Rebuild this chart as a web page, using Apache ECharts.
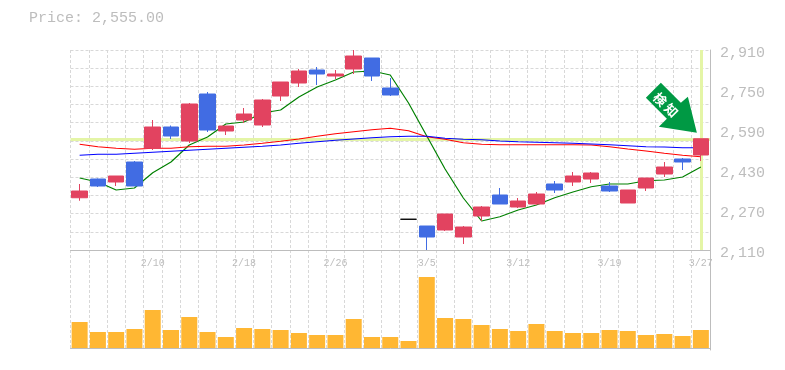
<!DOCTYPE html>
<html><head><meta charset="utf-8">
<style>html,body{margin:0;padding:0;background:#fff}#c{width:785px;height:370px}</style>
<script src="https://cdn.jsdelivr.net/npm/echarts@6/dist/echarts.min.js"></script>
</head><body><div id="c"></div>
<script>
const dates=['2/4','2/5','2/6','2/7','2/10','2/12','2/13','2/14','2/17','2/18','2/19','2/20','2/21','2/25','2/26','2/27','2/28','3/3','3/4','3/5','3/6','3/7','3/10','3/11','3/12','3/13','3/14','3/17','3/18','3/19','3/21','3/24','3/25','3/26','3/27'];
const opens=[2319,2394,2382,2462,2517,2602,2546,2734,2586,2630,2610,2726,2778,2830,2806,2834,2878,2758,2233,2206,2190,2162,2246,2330,2282,2294,2374,2382,2394,2366,2298,2358,2414,2474,2490];
const closes=[2346,2366,2406,2366,2602,2566,2694,2590,2606,2654,2710,2782,2826,2814,2814,2886,2806,2730,2233,2162,2254,2202,2282,2294,2306,2334,2350,2406,2418,2346,2350,2398,2442,2462,2555];
const lows=[2307,2362,2366,2366,2510,2554,2538,2582,2570,2618,2602,2706,2762,2770,2794,2814,2786,2726,2233,2110,2186,2134,2226,2294,2278,2290,2338,2366,2378,2342,2298,2346,2402,2430,2466];
const highs=[2374,2396,2406,2466,2630,2608,2698,2742,2606,2678,2714,2782,2834,2842,2830,2910,2878,2798,2233,2206,2254,2206,2286,2358,2318,2342,2386,2422,2422,2382,2350,2398,2462,2478,2555];
const maShort=[2398,2382,2350,2358,2419,2462,2530,2562,2614,2622,2658,2670,2722,2762,2790,2822,2826,2810,2698,2566,2434,2318,2226,2243,2270,2290,2319,2342,2363,2374,2374,2387,2390,2402,2442];
const maMid=[2533,2523,2517,2513,2517,2517,2523,2525,2525,2530,2537,2545,2554,2565,2575,2583,2591,2597,2587,2563,2553,2539,2533,2531,2531,2531,2531,2531,2530,2523,2514,2506,2497,2489,2483];
const maLong=[2489,2493,2493,2497,2501,2505,2509,2513,2517,2521,2525,2530,2537,2543,2549,2554,2559,2563,2565,2565,2557,2553,2551,2546,2543,2541,2539,2537,2534,2531,2527,2523,2522,2519,2519];
const volumes=[26,16,16,19,38,18,31,16,11,20,19,18,15,13,13,29,11,11,7,71,30,29,23,19,17,24,17,15,15,18,17,13,14,12,18];
const lastPrice=2555;
const lastDate='3/27';
const priceTitle='Price: 2,555.00';
const arrowText='検\u2009知';

const FONT='"Liberation Mono", monospace';
const GRIDC='#d8d8d8', AXC='#bdbdbd', TXT='#bdbdbd';
const split={show:true,interval:0,lineStyle:{color:GRIDC,type:[3,2],width:1}};
const candleData=dates.map((d,i)=>{
  const v=[opens[i],closes[i],lows[i],highs[i]];
  if(opens[i]===closes[i]) return {value:v,itemStyle:{color:'#000',borderColor:'#000',borderWidth:1}};
  return v;
});
const lineSeries=(name,data,color)=>({name,type:'line',data,xAxisIndex:0,yAxisIndex:0,z:2,showSymbol:false,symbol:'none',smooth:false,silent:true,lineStyle:{color,width:1.2}});
const chart=echarts.init(document.getElementById('c'),null,{renderer:'canvas'});
chart.setOption({
  animation:false,
  backgroundColor:'#fff',
  title:{text:priceTitle,left:24,top:6,textStyle:{fontFamily:FONT,fontSize:15,fontWeight:'normal',color:TXT}},
  grid:[
    {left:70.5,width:639.5,top:50,height:200},
    {left:70.5,width:639.5,top:250,height:100}
  ],
  xAxis:[
    {type:'category',gridIndex:0,data:dates,boundaryGap:true,axisLine:{show:true,lineStyle:{color:AXC,width:1}},axisTick:{show:false},splitLine:split,
     axisLabel:{show:true,color:TXT,fontFamily:FONT,fontSize:10,margin:8,interval:(i)=>i%5===4,hideOverlap:false}},
    {type:'category',gridIndex:1,data:dates,boundaryGap:true,axisLine:{show:true,lineStyle:{color:AXC,width:1}},axisTick:{show:false},axisLabel:{show:false},splitLine:split}
  ],
  yAxis:[
    {type:'value',gridIndex:0,min:2110,max:2910,interval:160,position:'right',scale:true,
     axisLine:{show:true,lineStyle:{color:AXC,width:1}},axisTick:{show:false},splitLine:{show:false},
     axisLabel:{show:true,color:TXT,fontFamily:FONT,fontSize:15,margin:10,verticalAlign:'top',lineHeight:7,
       showMinLabel:true,showMaxLabel:true,
       formatter:v=>v.toLocaleString('en-US')}},
    {type:'value',gridIndex:0,min:0,max:11,interval:1,position:'left',
     axisLine:{show:false},axisTick:{show:false},axisLabel:{show:false},
     splitLine:{show:true,lineStyle:{color:GRIDC,type:[3,2],width:1}}},
    {type:'value',gridIndex:1,min:-2,max:98,position:'right',
     axisLine:{show:true,lineStyle:{color:AXC,width:1}},axisTick:{show:false},axisLabel:{show:false},splitLine:{show:false}}
  ],
  series:[
    {name:'cross',type:'line',data:[],xAxisIndex:0,yAxisIndex:0,z:1,symbol:'none',silent:true,
     markLine:{silent:true,symbol:'none',z:1,animation:false,label:{show:false},
       lineStyle:{color:'#e4f5a6',width:3,type:'solid'},
       data:[{yAxis:lastPrice},{xAxis:lastDate}]}},
    lineSeries('short',maShort,'#008000'),
    lineSeries('mid',maMid,'#ff0000'),
    lineSeries('long',maLong,'#0000ff'),
    {name:'price',type:'candlestick',data:candleData,xAxisIndex:0,yAxisIndex:0,z:3,barWidth:16,silent:true,
     itemStyle:{color:'#e24360',color0:'#416ce3',borderColor:'#e24360',borderColor0:'#416ce3',borderWidth:1},
     markPoint:{silent:true,z:5,animation:false,
       data:[{coord:[lastDate,lastPrice],
         symbol:'path://M660 83L680 103L687 97L696 133L658 127L666 119L645 98Z',
         symbolSize:[51,50],symbolKeepAspect:false,symbolOffset:[-29.5,-31],
         itemStyle:{color:'#009944'},
         label:{show:true,position:'inside',formatter:arrowText,rotate:-45,color:'#fff',fontSize:13,fontWeight:'bold',fontFamily:'"Noto Sans CJK JP"',offset:[-6,2]}}]}},
    {name:'volume',type:'bar',data:volumes,xAxisIndex:1,yAxisIndex:2,barWidth:16,silent:true,itemStyle:{color:'#ffb733'}}
  ]
});
</script></body></html>
